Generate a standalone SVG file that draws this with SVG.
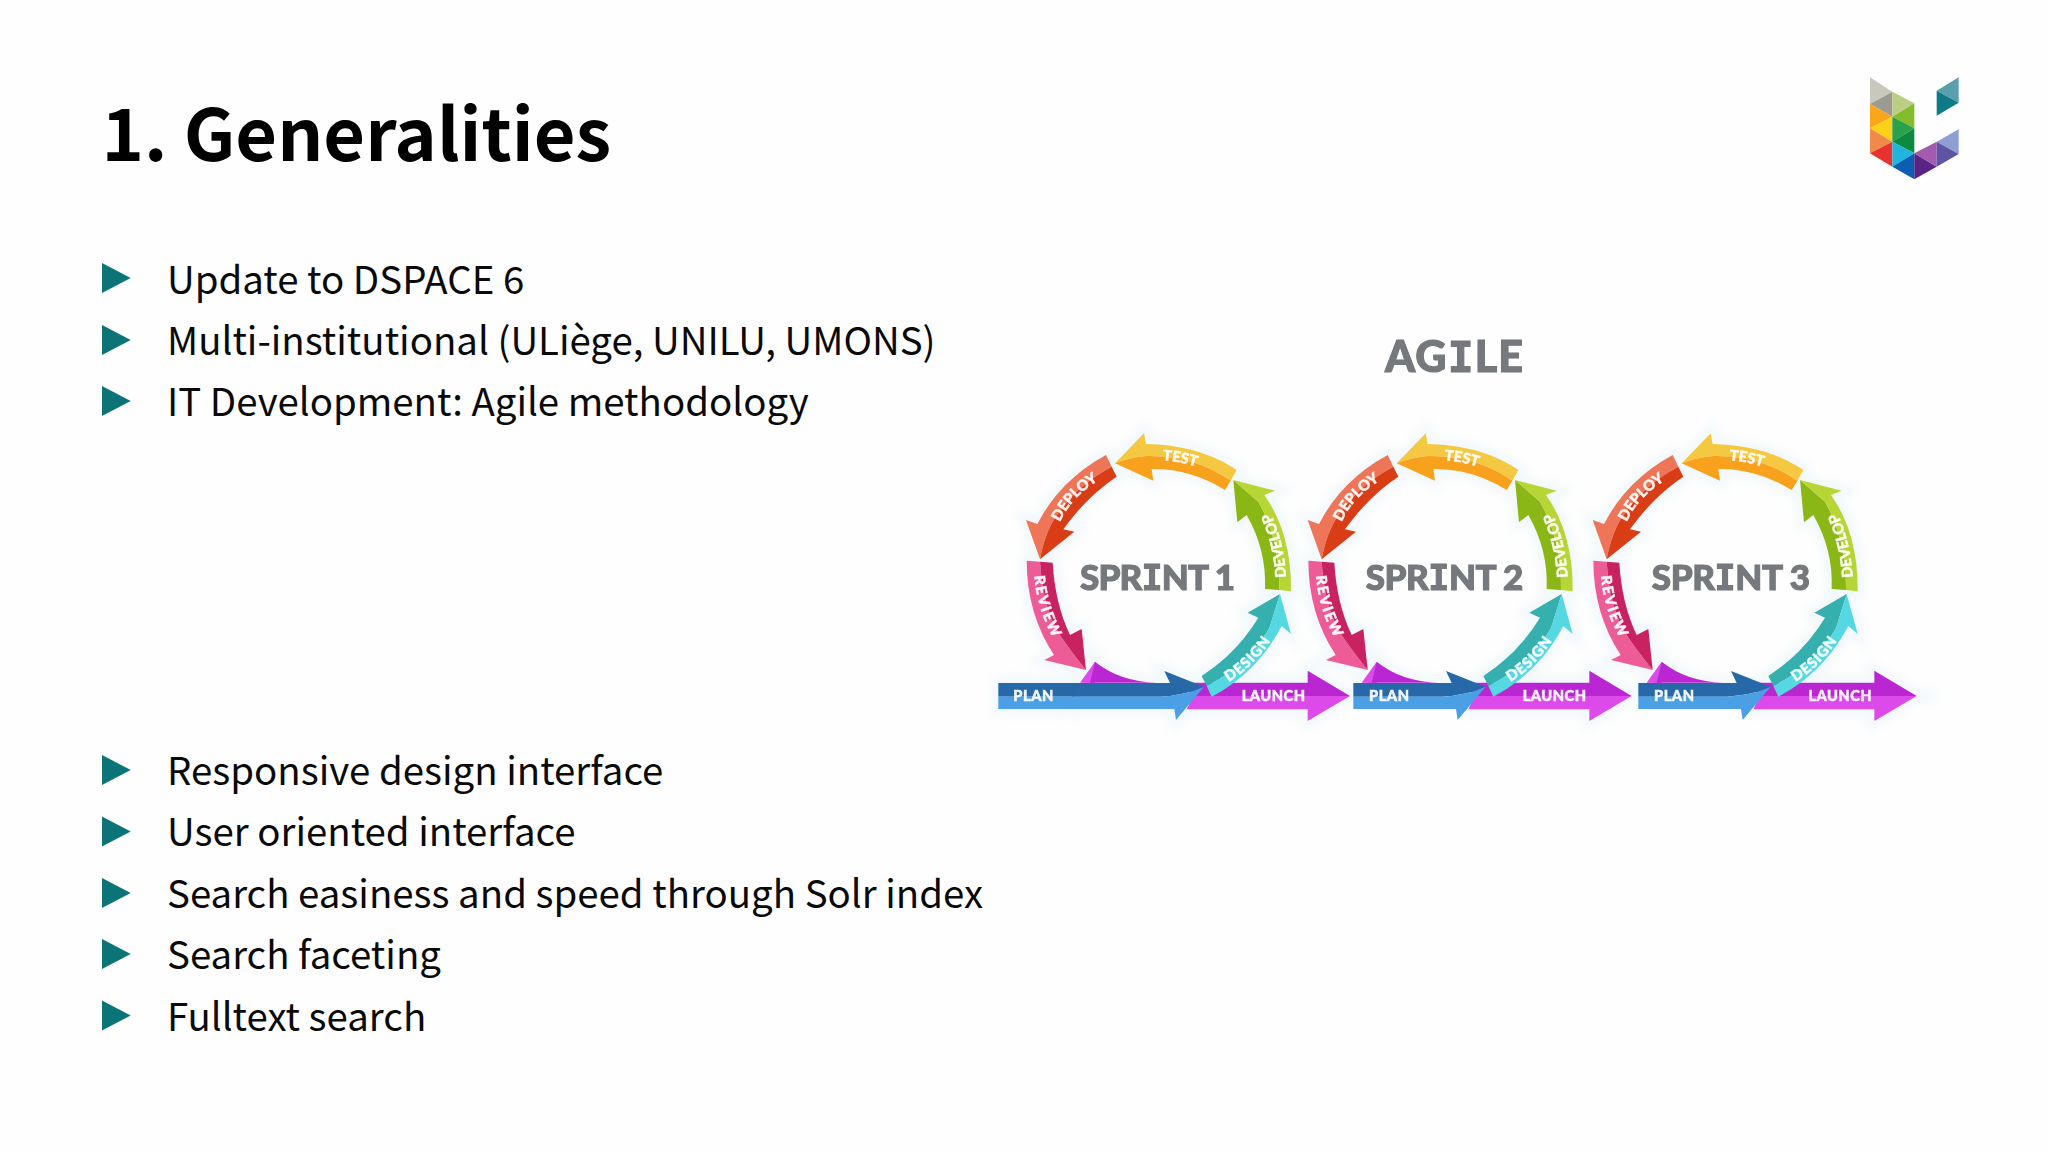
<svg xmlns="http://www.w3.org/2000/svg" xmlns:xlink="http://www.w3.org/1999/xlink" width="2048" height="1152" viewBox="0 0 2048 1152">
<style>
.t{font-family:"Noto Sans CJK SC","Noto Sans",sans-serif;fill:#0a0a0a}
.h{font-size:72px;font-weight:700;fill:#000}
.b{font-size:38.4px;font-weight:400}
.bl{fill:#0c7377}
.g{font-family:Lato,"DejaVu Sans",sans-serif;font-weight:900;fill:#75787b;stroke:#75787b;stroke-width:1.1}
.i{font-family:"DejaVu Sans Mono",monospace;font-weight:700}
.l{font-family:Lato,"DejaVu Sans",sans-serif;font-weight:900;font-size:44px;fill:#fff;fill-opacity:.92;stroke:#fff;stroke-opacity:.8;stroke-width:1.6}
.r{letter-spacing:5px}
.d{letter-spacing:3px}
</style>
<defs>
<filter id="soft" x="-5%" y="-5%" width="110%" height="110%"><feGaussianBlur stdDeviation="0.55"/></filter>
<filter id="halo" x="-10%" y="-10%" width="120%" height="120%"><feGaussianBlur stdDeviation="5"/></filter>
<polygon id="tri" class="bl" points="0,0 28.7,15 0,30"/>
<path id="pTest" d="M548,421 Q600,424 660,443"/>
<path id="pDeploy" d="M240,606 Q275,530 352,484"/>
<path id="pDevelop" d="M918,772 Q912,660 866,566"/>
<path id="pDesign" d="M746,1086 Q820,1040 872,962"/>
<path id="pReview" d="M163,768 Q170,860 216,948"/>
<g id="launch">
<path fill="#dc4cea" d="M300,1088 L345,1025 Q350,1060 345,1090 Z"/>
<path fill="#b928d2" d="M345,1025 Q420,1085 530,1088 L983,1088 L983,1052 L1110,1128 L640,1128 L600,1088 L330,1088 Z"/>
<path fill="#dc4cea" d="M640,1128 L1110,1128 L983,1203 L983,1168 L620,1168 Z"/>
</g>
<g id="ring">
<path fill="#34b0ae" d="M900,822 L803,878 L835,893 Q770,1000 665,1068 L680,1098 Q800,1040 868,925 Z"/>
<path fill="#55d8e2" d="M900,822 L933,942 L905,918 Q830,1060 695,1130 L680,1098 Q800,1040 868,925 Z"/>
<path fill="#8ab612" d="M760,480 L772,607 L800,585 Q860,690 855,807 L898,810 Q900,660 835,545 Z"/>
<path fill="#b7d536" d="M760,480 L885,512 L853,525 Q935,640 933,814 L898,810 Q900,660 835,545 Z"/>
<path fill="#f5c843" d="M405,430 L492,340 L498,372 Q660,375 770,450 L752,482 Q640,405 500,408 Q450,412 405,430 Z"/>
<path fill="#f8a11b" d="M405,430 Q450,412 500,408 Q640,405 752,482 L735,510 Q630,445 515,447 L520,482 Z"/>
<path fill="#ee7458" d="M378,405 L395,440 Q280,500 215,610 Q190,660 180,718 L138,600 L172,612 Q240,480 378,405 Z"/>
<path fill="#d93c17" d="M395,440 L410,470 Q320,530 250,628 L283,635 L180,718 Q190,660 215,610 Q280,500 395,440 Z"/>
<path fill="#ee5b97" d="M140,722 L180,725 Q190,880 250,960 Q285,1010 318,1050 L193,1020 L222,1005 Q140,880 140,722 Z"/>
<path fill="#c92060" d="M180,725 L218,728 Q225,850 270,945 L305,927 L318,1050 Q285,1010 250,960 Q190,880 180,725 Z"/>
</g>
<g id="plan">
<path fill="#2568a8" d="M275,1089 L570,1089 L553,1053 L672,1100 Q620,1125 540,1130 L275,1130 Z"/>
<path fill="#4b9fe4" d="M275,1130 L540,1130 Q620,1125 672,1100 L588,1200 L583,1167 L275,1167 Z"/>
</g>
<g id="art">
<use href="#launch"/><use href="#plan"/><use href="#ring"/>
<rect x="55" y="1089" width="225" height="41" fill="#2568a8"/><rect x="55" y="1130" width="225" height="37" fill="#4b9fe4"/>
</g>
</defs>
<rect width="2048" height="1152" fill="#fefefe"/>

<text class="t h" x="101.5" y="161">1. Generalities</text>

<g id="list-top">
<use href="#tri" x="102" y="263"/><text class="t b" x="167" y="294">Update to DSPACE 6</text>
<use href="#tri" x="102" y="325"/><text class="t b" x="167" y="355">Multi-institutional (ULiège, UNILU, UMONS)</text>
<use href="#tri" x="102" y="386"/><text class="t b" x="167" y="416">IT Development: Agile methodology</text>
</g>
<g id="list-bottom">
<use href="#tri" x="102" y="755"/><text class="t b" x="167" y="785">Responsive design interface</text>
<use href="#tri" x="102" y="816.500"/><text class="t b" x="167" y="846">User oriented interface</text>
<use href="#tri" x="102" y="878"/><text class="t b" x="167" y="908">Search easiness and speed through Solr index</text>
<use href="#tri" x="102" y="939"/><text class="t b" x="167" y="969">Search faceting</text>
<use href="#tri" x="102" y="1000.500"/><text class="t b" x="167" y="1031">Fulltext search</text>
</g>

<g id="logo" transform="translate(1840,60) scale(.33333)">
<polygon fill="#c9c8bc" points="90,52 157,95 90,132"/>
<polygon fill="#9b9b91" points="90,132 157,95 157,170"/>
<polygon fill="#f9a61a" points="90,132 157,170 90,205"/>
<polygon fill="#fcd116" points="90,205 157,170 157,245"/>
<polygon fill="#f08a4b" points="90,205 157,245 90,280"/>
<polygon fill="#e8322f" points="90,280 157,245 157,320"/>
<polygon fill="#bcce83" points="157,95 223,130 157,170"/>
<polygon fill="#84bd2a" points="157,170 223,130 223,205"/>
<polygon fill="#2ba14b" points="157,170 223,205 157,245"/>
<polygon fill="#0c8a3e" points="157,245 223,205 223,280"/>
<polygon fill="#1fb5dc" points="157,245 223,280 157,320"/>
<polygon fill="#0d5db0" points="157,320 223,280 223,358"/>
<polygon fill="#5a2483" points="223,280 290,320 223,358"/>
<polygon fill="#a35bb0" points="223,280 290,245 290,320"/>
<polygon fill="#8f9ed3" points="290,245 356,208 356,282"/>
<polygon fill="#5d55a3" points="290,245 356,282 290,320"/>
<polygon fill="#5aa0ac" points="290,92 356,52 356,128"/>
<polygon fill="#0e7a86" points="290,92 356,128 290,167"/>
</g>

<g id="agile-picture" filter="url(#soft)">
<g id="halos" filter="url(#halo)" opacity=".32">
<g transform="translate(980,320) scale(.33333)"><use href="#art" stroke="#dcedf5" stroke-width="40"/></g>
<g transform="translate(1261.67,320) scale(.33333)"><use href="#ring" stroke="#dcedf5" stroke-width="40"/><use href="#launch" stroke="#dcedf5" stroke-width="40"/></g>
<g transform="translate(1546.67,320) scale(.33333)"><use href="#ring" stroke="#dcedf5" stroke-width="40"/><use href="#launch" stroke="#dcedf5" stroke-width="40"/></g>
</g>
<text id="agile-title" class="g" x="1385" y="372" font-size="43" textLength="138" lengthAdjust="spacing">AG<tspan class="i">I</tspan>LE</text>

<g id="sprint1" transform="translate(980,320) scale(.33333)">
<use href="#art"/>
<text class="l"><textPath href="#pTest">TEST</textPath></text>
<text class="l"><textPath href="#pDeploy">DEPLOY</textPath></text>
<text class="l"><textPath href="#pDevelop">DEVELOP</textPath></text>
<text class="l d"><textPath href="#pDesign">DESIGN</textPath></text>
<text class="l r"><textPath href="#pReview">REVIEW</textPath></text>
<text class="l" x="100" y="1143" textLength="120" lengthAdjust="spacing">PLAN</text>
<text class="l" x="785" y="1143" textLength="190" lengthAdjust="spacing">LAUNCH</text>
</g>
<text class="g" x="1080" y="590" font-size="35" textLength="155" lengthAdjust="spacing">SPR<tspan class="i">I</tspan>NT 1</text>

<g id="sprint2" transform="translate(1261.67,320) scale(.33333)">
<use href="#launch"/><use href="#plan"/><use href="#ring"/>
<text class="l"><textPath href="#pTest">TEST</textPath></text>
<text class="l"><textPath href="#pDeploy">DEPLOY</textPath></text>
<text class="l"><textPath href="#pDevelop">DEVELOP</textPath></text>
<text class="l d"><textPath href="#pDesign">DESIGN</textPath></text>
<text class="l r"><textPath href="#pReview">REVIEW</textPath></text>
<text class="l" x="322" y="1143" textLength="120" lengthAdjust="spacing">PLAN</text>
<text class="l" x="783" y="1143" textLength="190" lengthAdjust="spacing">LAUNCH</text>
</g>
<text class="g" x="1365.7" y="590" font-size="35" textLength="157.6" lengthAdjust="spacing">SPR<tspan class="i">I</tspan>NT 2</text>

<g id="sprint3" transform="translate(1546.67,320) scale(.33333)">
<use href="#launch"/><use href="#plan"/><use href="#ring"/>
<text class="l"><textPath href="#pTest">TEST</textPath></text>
<text class="l"><textPath href="#pDeploy">DEPLOY</textPath></text>
<text class="l"><textPath href="#pDevelop">DEVELOP</textPath></text>
<text class="l d"><textPath href="#pDesign">DESIGN</textPath></text>
<text class="l r"><textPath href="#pReview">REVIEW</textPath></text>
<text class="l" x="322" y="1143" textLength="120" lengthAdjust="spacing">PLAN</text>
<text class="l" x="785" y="1143" textLength="190" lengthAdjust="spacing">LAUNCH</text>
</g>
<text class="g" x="1651.7" y="590" font-size="35" textLength="158.3" lengthAdjust="spacing">SPR<tspan class="i">I</tspan>NT 3</text>
</g>
</svg>
